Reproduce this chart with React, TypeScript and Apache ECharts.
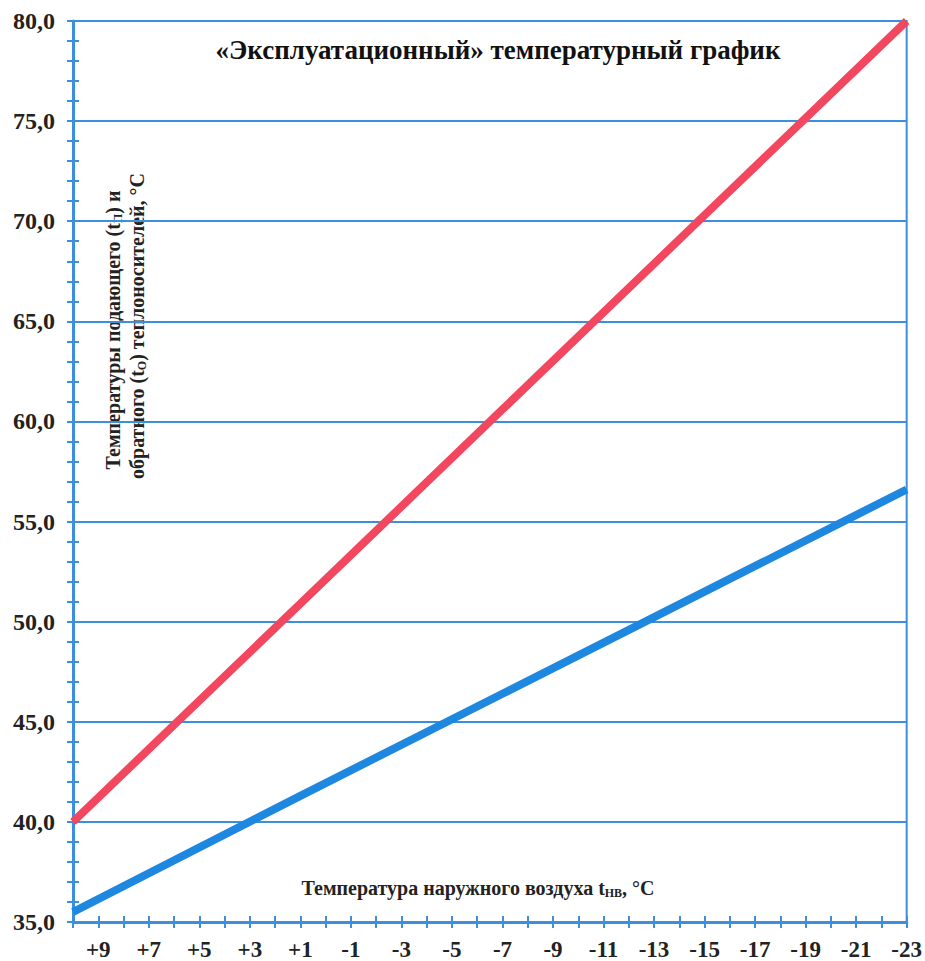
import React, { useEffect, useRef } from "react";
import * as echarts from "echarts";

const outdoorTemps = [10, 1, -7, -15, -23];
const supplyTemps = [40.0, 50.9, 60.6, 70.3, 80.0];
const returnTemps = [35.5, 41.3, 46.4, 51.5, 56.6];

const titleText = "«Эксплуатационный» температурный график";
const yLabelLine1 = ["Температуры подающего (t", "П", ") и"];
const yLabelLine2 = ["обратного (t", "О", ") теплоносителей, °С"];
const xLabelParts = ["Температура наружного воздуха t", "НВ", ", °С"];

const BLUE = "#3b8fdc";
const FONT = "Liberation Serif";

export default function App() {
  const ref = useRef<HTMLDivElement>(null);
  useEffect(() => {
    document.body.style.margin = "0";
    const chart = echarts.init(ref.current!, undefined, { renderer: "svg" });
    const rich = {
      a: { fontFamily: FONT, fontWeight: "bold", fontSize: 20, fill: "#222" },
      s: { fontFamily: FONT, fontWeight: "bold", fontSize: 12, fill: "#222", padding: [9, 0, 0, 0] },
    };
    const mk = (p: string[]) => `{a|${p[0]}}{s|${p[1]}}{a|${p[2]}}`;
    const fmtX = (v: number) => {
      if (Math.abs(v) % 2 !== 1) return "";
      return v > 0 ? "+" + v : String(v);
    };
    chart.setOption({
      animation: false,
      textStyle: { fontFamily: FONT },
      grid: {
        left: 73,
        top: 21,
        right: 14,
        bottom: 37,
        show: true,
        borderColor: BLUE,
        borderWidth: 2,
      },
      xAxis: [
        {
          type: "value",
          inverse: true,
          min: -23,
          max: 10,
          interval: 1,
          position: "bottom",
          axisLine: { show: true, onZero: false, lineStyle: { color: BLUE, width: 3 } },
          axisTick: { show: false },
          splitLine: { show: false },
          axisLabel: {
            formatter: fmtX,
            fontFamily: FONT,
            fontWeight: "bold",
            fontSize: 23,
            color: "#222",
            margin: 16,
            showMinLabel: true,
            showMaxLabel: true,
          },
        },
        {
          type: "value",
          inverse: true,
          min: -23,
          max: 10,
          interval: 1,
          position: "bottom",
          offset: -6,
          axisLine: { show: false, onZero: false },
          axisTick: { show: true, length: 12, lineStyle: { color: BLUE, width: 2 } },
          splitLine: { show: false },
          axisLabel: { show: false },
        },
      ],
      yAxis: [
        {
          type: "value",
          min: 35,
          max: 80,
          interval: 5,
          position: "left",
          axisLine: { show: true, onZero: false, lineStyle: { color: BLUE, width: 3 } },
          axisTick: { show: false },
          splitLine: { show: true, lineStyle: { color: BLUE, width: 2 } },
          axisLabel: {
            formatter: (v: number) => v.toFixed(1).replace(".", ","),
            fontFamily: FONT,
            fontWeight: "bold",
            fontSize: 24,
            color: "#222",
            margin: 18,
          },
        },
        {
          type: "value",
          min: 35,
          max: 80,
          interval: 1,
          position: "left",
          offset: -6,
          axisLine: { show: false, onZero: false },
          axisTick: { show: true, length: 12, lineStyle: { color: BLUE, width: 2 } },
          splitLine: { show: false },
          axisLabel: { show: false },
        },
      ],
      series: [
        {
          type: "line",
          name: "return",
          showSymbol: false,
          data: outdoorTemps.map((t, i) => [t, returnTemps[i]]),
          lineStyle: { color: "#1e88e0", width: 8 },
          itemStyle: { color: "#1e88e0" },
        },
        {
          type: "line",
          name: "supply",
          showSymbol: false,
          data: outdoorTemps.map((t, i) => [t, supplyTemps[i]]),
          lineStyle: { color: "#f2475f", width: 8 },
          itemStyle: { color: "#f2475f" },
        },
      ],
      graphic: [
        {
          type: "text",
          x: 498,
          y: 50,
          style: {
            text: titleText,
            fontFamily: FONT,
            fontWeight: "bold",
            fontSize: 27,
            fill: "#111",
            align: "center",
            verticalAlign: "middle",
          },
        },
        {
          type: "text",
          x: 113,
          y: 330,
          rotation: Math.PI / 2,
          style: { text: mk(yLabelLine1), rich, align: "center", verticalAlign: "middle" },
        },
        {
          type: "text",
          x: 137,
          y: 326,
          rotation: Math.PI / 2,
          style: { text: mk(yLabelLine2), rich, align: "center", verticalAlign: "middle" },
        },
        {
          type: "text",
          x: 478,
          y: 888,
          style: { text: mk(xLabelParts), rich, align: "center", verticalAlign: "middle" },
        },
      ],
    });
    return () => chart.dispose();
  }, []);
  return <div ref={ref} style={{ width: 925, height: 961 }} />;
}
